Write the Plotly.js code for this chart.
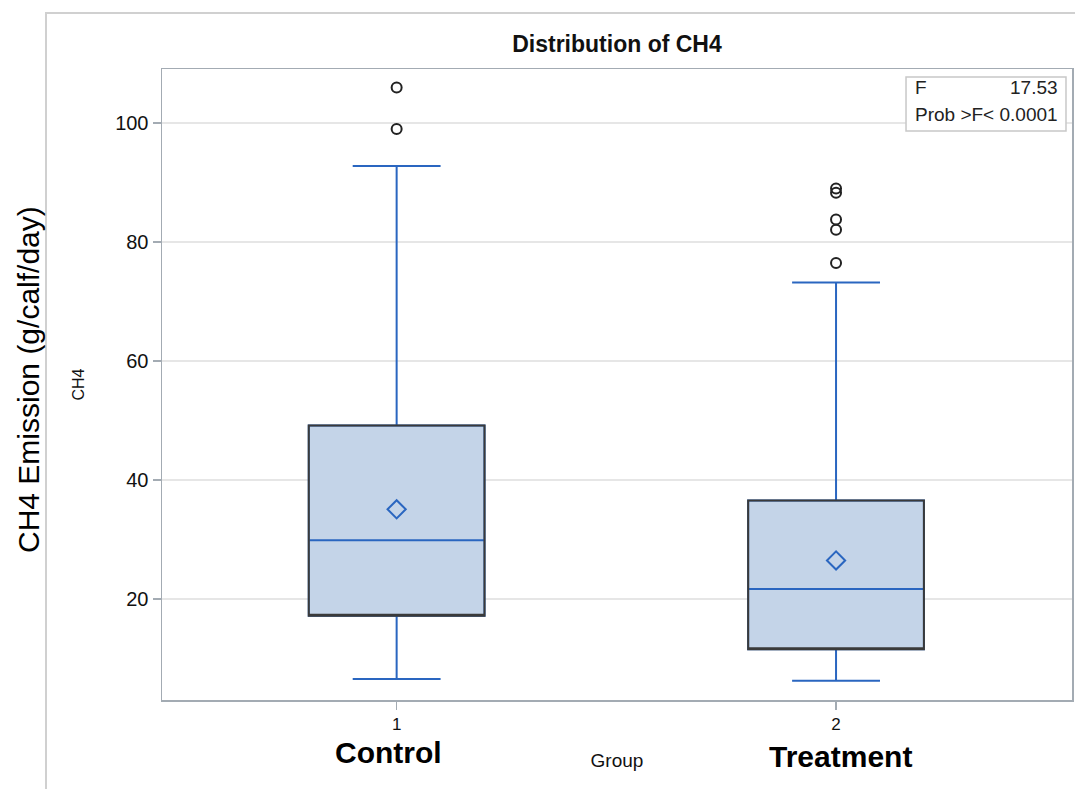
<!DOCTYPE html>
<html>
<head>
<meta charset="utf-8">
<script src="https://cdn.plot.ly/plotly-3.0.1.min.js"></script>
<style>
  html, body { margin: 0; padding: 0; background: #fff; }
  #chart { width: 1075px; height: 789px; }
</style>
</head>
<body>
<div id="chart"></div>
<script>
// ---- data ----
const groups = [1, 2];
const groupLabels = ['Control', 'Treatment'];
const tickLabels = ['1', '2'];
const q1 = [17.2, 11.6];
const median = [29.9, 21.7];
const q3 = [49.2, 36.6];
const lowerWhisker = [6.6, 6.3];
const upperWhisker = [92.8, 73.2];
const means = [35.1, 26.5];
const controlOutliers = [99.0, 106.0];
const treatmentOutliers = [76.5, 82.1, 83.8, 88.3, 89.0];
const fStat = '17.53';
const pText = 'Prob >F< 0.0001';

const blue = '#2a66c0';
const fill = '#c4d4e8';
const dark = '#3a3a3a';
const axisCol = '#a3abb3';
const font = 'Liberation Sans, Arial, sans-serif';

const outX = [], outY = [];
controlOutliers.forEach(v => { outX.push(groups[0]); outY.push(v); });
treatmentOutliers.forEach(v => { outX.push(groups[1]); outY.push(v); });

const traces = [
  {
    type: 'box', x: groups, q1: q1, median: median, q3: q3,
    lowerfence: lowerWhisker, upperfence: upperWhisker,
    width: 0.4, whiskerwidth: 0.5, boxpoints: false,
    fillcolor: fill, line: { color: blue, width: 2 },
    hoverinfo: 'skip', showlegend: false
  },
  {
    type: 'box', x: groups, q1: q1, median: q1, q3: q3,
    lowerfence: q1, upperfence: q3,
    width: 0.4, whiskerwidth: 0, boxpoints: false,
    fillcolor: 'rgba(0,0,0,0)', line: { color: dark, width: 2 },
    hoverinfo: 'skip', showlegend: false
  },
  {
    type: 'scatter', mode: 'markers', x: groups, y: means,
    marker: { symbol: 'diamond-open', size: 14, color: blue, line: { width: 2, color: blue } },
    hoverinfo: 'skip', showlegend: false
  },
  {
    type: 'scatter', mode: 'markers', x: outX, y: outY,
    marker: { symbol: 'circle-open', size: 10, color: '#222', line: { width: 2, color: '#222' } },
    hoverinfo: 'skip', showlegend: false
  }
];

const layout = {
  width: 1075, height: 789,
  margin: { l: 162, r: 3, t: 69, b: 89 },
  paper_bgcolor: '#fff', plot_bgcolor: '#fff',
  font: { family: font, color: '#111' },
  showlegend: false,
  title: {
    text: '<b>Distribution of CH4</b>',
    font: { family: font, size: 23, color: '#111' },
    x: 0.5, xref: 'paper', xanchor: 'center',
    y: 1 - 44 / 789, yref: 'container', yanchor: 'middle'
  },
  xaxis: {
    range: [0.466, 2.537],
    tickvals: groups, ticktext: tickLabels,
    ticks: 'outside', ticklen: 8, tickwidth: 1.5, tickcolor: axisCol,
    ticklabelstandoff: 0,
    tickfont: { family: font, size: 17, color: '#111' },
    showgrid: false, zeroline: false,
    showline: true, linecolor: axisCol, linewidth: 1.5, mirror: true,
    title: { text: 'Group', font: { family: font, size: 19, color: '#111' }, standoff: 21 },
    automargin: false
  },
  yaxis: {
    range: [3.05, 109.1],
    tickvals: [20, 40, 60, 80, 100],
    ticks: 'outside', ticklen: 8, tickwidth: 1.5, tickcolor: axisCol,
    tickfont: { family: font, size: 20, color: '#111' },
    showgrid: true, gridcolor: '#e6e6e6', gridwidth: 1.5,
    zeroline: false,
    showline: true, linecolor: axisCol, linewidth: 1.5, mirror: true,
    title: { text: 'CH4', font: { family: font, size: 16, color: '#111' }, standoff: 26 },
    automargin: false
  },
  shapes: [
    { type: 'rect', xref: 'paper', yref: 'paper',
      x0: (46 - 162) / 910, x1: 1.03, y0: -0.2, y1: (700 - 13) / 631,
      line: { color: '#d0d0d0', width: 2 }, fillcolor: 'rgba(0,0,0,0)', layer: 'below' },
    { type: 'rect', xref: 'paper', yref: 'paper',
      x0: 0.8176, x1: 0.9934, y0: 0.9017, y1: 0.9873,
      line: { color: '#c8c8c8', width: 1.5 }, fillcolor: '#fff' }
  ],
  annotations: [
    { text: 'F', xref: 'paper', yref: 'paper', x: 0.8253, y: 0.9699,
      xanchor: 'left', yanchor: 'middle', showarrow: false,
      font: { family: font, size: 19, color: '#222' } },
    { text: fStat, xref: 'paper', yref: 'paper', x: 0.9866, y: 0.9699,
      xanchor: 'right', yanchor: 'middle', showarrow: false,
      font: { family: font, size: 19, color: '#222' } },
    { text: pText, xref: 'paper', yref: 'paper', x: 0.8253, y: 0.9271,
      xanchor: 'left', yanchor: 'middle', showarrow: false,
      font: { family: font, size: 19, color: '#222' } },
    { text: '<b>' + groupLabels[0] + '</b>', xref: 'x', yref: 'paper',
      x: groups[0] - 8 / 439, y: (700 - 752) / 631, xanchor: 'center', yanchor: 'middle',
      showarrow: false, font: { family: font, size: 30, color: '#000' } },
    { text: '<b>' + groupLabels[1] + '</b>', xref: 'x', yref: 'paper',
      x: groups[1] + 4 / 439, y: (700 - 756) / 631, xanchor: 'center', yanchor: 'middle',
      showarrow: false, font: { family: font, size: 30, color: '#000' } },
    { text: 'CH4 Emission (g/calf/day)', xref: 'paper', yref: 'paper',
      x: (28 - 162) / 910, y: (700 - 380) / 631, xanchor: 'center', yanchor: 'middle',
      textangle: -90, showarrow: false,
      font: { family: font, size: 30, color: '#000' } }
  ]
};

Plotly.newPlot('chart', traces, layout, { displayModeBar: false, staticPlot: true });
</script>
</body>
</html>
